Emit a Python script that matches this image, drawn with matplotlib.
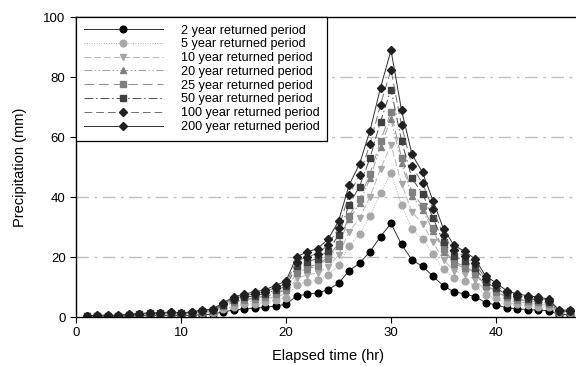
import matplotlib
matplotlib.use("Agg")
import matplotlib.pyplot as plt
import numpy as np

plt.rcParams['font.family'] = ['Liberation Sans', 'DejaVu Sans']

# horas decorridas
hours = list(range(1, 48))

p2 = [0.1, 0.2, 0.2, 0.2, 0.3, 0.4, 0.5, 0.5, 0.6, 0.5,
      0.6, 0.8, 0.9, 1.7, 2.3, 2.7, 2.9, 3.2, 3.7, 4.2,
      7.0, 7.6, 8.0, 9.1, 11.2, 15.4, 17.9, 21.8, 26.8, 31.2,
      24.2, 19.0, 16.9, 13.6, 10.3, 8.4, 7.7, 6.8, 4.8, 4.0,
      3.1, 2.7, 2.5, 2.3, 2.1, 0.8, 0.8]
p5 = [0.2, 0.3, 0.3, 0.3, 0.5, 0.6, 0.8, 0.8, 0.9, 0.8,
      0.9, 1.2, 1.4, 2.6, 3.5, 4.2, 4.5, 4.9, 5.7, 6.5,
      10.8, 11.7, 12.3, 14.0, 17.2, 23.7, 27.6, 33.6, 41.3, 48.0,
      37.3, 29.3, 26.0, 20.9, 15.9, 12.9, 11.9, 10.5, 7.4, 6.2,
      4.8, 4.2, 3.9, 3.5, 3.2, 1.2, 1.2]
p10 = [0.2, 0.4, 0.4, 0.4, 0.6, 0.7, 0.9, 0.9, 1.1, 0.9,
       1.1, 1.5, 1.7, 3.1, 4.2, 5.0, 5.3, 5.9, 6.8, 7.7,
       12.9, 14.0, 14.7, 16.7, 20.6, 28.3, 32.9, 40.1, 49.3, 57.4,
       44.5, 35.0, 31.1, 25.0, 19.0, 15.5, 14.2, 12.5, 8.8, 7.4,
       5.7, 5.0, 4.6, 4.2, 3.9, 1.5, 1.5]
p20 = [0.2, 0.4, 0.4, 0.4, 0.6, 0.8, 1.1, 1.1, 1.3, 1.1,
       1.3, 1.7, 1.9, 3.6, 4.9, 5.7, 6.1, 6.8, 7.8, 8.9,
       14.8, 16.1, 17.0, 19.3, 23.7, 32.6, 37.9, 46.2, 56.8, 66.1,
       51.3, 40.3, 35.8, 28.8, 21.8, 17.8, 16.3, 14.4, 10.2, 8.5,
       6.6, 5.7, 5.3, 4.9, 4.5, 1.7, 1.7]
p25 = [0.2, 0.4, 0.4, 0.4, 0.7, 0.9, 1.1, 1.1, 1.3, 1.1,
       1.3, 1.8, 2.0, 3.7, 5.0, 5.9, 6.4, 7.0, 8.1, 9.2,
       15.3, 16.6, 17.5, 19.9, 24.5, 33.7, 39.2, 47.7, 58.7, 68.3,
       53.0, 41.6, 37.0, 29.8, 22.6, 18.4, 16.9, 14.9, 10.5, 8.8,
       6.8, 5.9, 5.5, 5.0, 4.6, 1.8, 1.8]
p50 = [0.2, 0.5, 0.5, 0.5, 0.7, 1.0, 1.2, 1.2, 1.5, 1.2,
       1.5, 1.9, 2.2, 4.1, 5.6, 6.6, 7.0, 7.8, 9.0, 10.2,
       17.0, 18.5, 19.4, 22.1, 27.2, 37.4, 43.5, 53.0, 65.1, 75.8,
       58.8, 46.2, 41.1, 33.0, 25.0, 20.4, 18.7, 16.5, 11.7, 9.7,
       7.5, 6.6, 6.1, 5.6, 5.1, 1.9, 1.9]
p100 = [0.3, 0.5, 0.5, 0.5, 0.8, 1.1, 1.3, 1.3, 1.6, 1.3,
        1.6, 2.1, 2.4, 4.5, 6.1, 7.1, 7.7, 8.4, 9.8, 11.1,
        18.5, 20.1, 21.1, 24.0, 29.6, 40.7, 47.3, 57.6, 70.8, 82.4,
        63.9, 50.2, 44.6, 35.9, 27.2, 22.2, 20.3, 18.0, 12.7, 10.6,
        8.2, 7.1, 6.6, 6.1, 5.5, 2.1, 2.1]
p200 = [0.3, 0.6, 0.6, 0.6, 0.9, 1.1, 1.4, 1.4, 1.7, 1.4,
        1.7, 2.3, 2.6, 4.8, 6.6, 7.7, 8.3, 9.1, 10.5, 12.0,
        20.0, 21.7, 22.8, 25.9, 31.9, 43.9, 51.0, 62.1, 76.4, 88.9,
        69.0, 54.2, 48.2, 38.8, 29.4, 23.9, 21.9, 19.4, 13.7, 11.4,
        8.8, 7.7, 7.1, 6.6, 6.0, 2.3, 2.3]

labels = ["2 year returned period", "5 year returned period",
          "10 year returned period", "20 year returned period",
          "25 year returned period", "50 year returned period",
          "100 year returned period", "200 year returned period"]

# estilo: (cor da linha, estilo da linha, marcador, cor do marcador)
estilos = [
    ("#303030", "-", "o", "black"),
    ("#b0b0b0", (0, (1, 1.5)), "o", "#a8a8a8"),
    ("#b8b8b8", (0, (7, 3)), "v", "#a8a8a8"),
    ("#a0a0a0", (0, (8, 2.5, 1.5, 2.5, 1.5, 2.5)), "^", "#808080"),
    ("#909090", (0, (10, 5)), "s", "#808080"),
    ("#505050", (0, (9, 3, 1.5, 3)), "s", "#404040"),
    ("#707070", (0, (8, 4)), "D", "#202020"),
    ("#303030", "-", "D", "#202020"),
]

fig = plt.figure(figsize=(5.76, 3.66), dpi=100)
ax = fig.add_axes([76 / 576, 49 / 366, (580 - 76) / 576, 300 / 366])

series = [p2, p5, p10, p20, p25, p50, p100, p200]
for vals, lab, (lc, ls, mk, mc) in zip(series, labels, estilos):
    ms = 4.3 if mk == "D" else 4.8
    ax.plot(hours, vals, color=lc, linestyle=ls, linewidth=0.7,
            marker=mk, markersize=ms, markerfacecolor=mc,
            markeredgecolor=mc, label=lab)

# grelha horizontal tracejada
for gy in [20, 40, 60, 80]:
    ax.axhline(gy, color="#c0c0c0", linewidth=1.0,
               linestyle=(0, (9, 4, 2, 4)), zorder=0)

ax.set_xlim(0, 48)
ax.set_ylim(0, 100)
ax.set_xticks([0, 10, 20, 30, 40])
ax.set_yticks([0, 20, 40, 60, 80, 100])
ax.tick_params(direction="out", length=4, width=0.8, labelsize=9.5)
for sp in ax.spines.values():
    sp.set_linewidth(1.0)

ax.set_xlabel("Elapsed time (hr)", fontsize=10.5, labelpad=7)
ax.set_ylabel("Precipitation (mm)", fontsize=10.5, labelpad=12)

leg = ax.legend(loc="upper left", bbox_to_anchor=(0, 1), borderaxespad=0,
                fontsize=9.1, handlelength=6.3, handletextpad=1.4,
                labelspacing=0.14, numpoints=1, fancybox=False,
                edgecolor="black", framealpha=1, borderpad=0.6)
leg.get_frame().set_linewidth(0.9)

fig.savefig("out.png", dpi=100)
